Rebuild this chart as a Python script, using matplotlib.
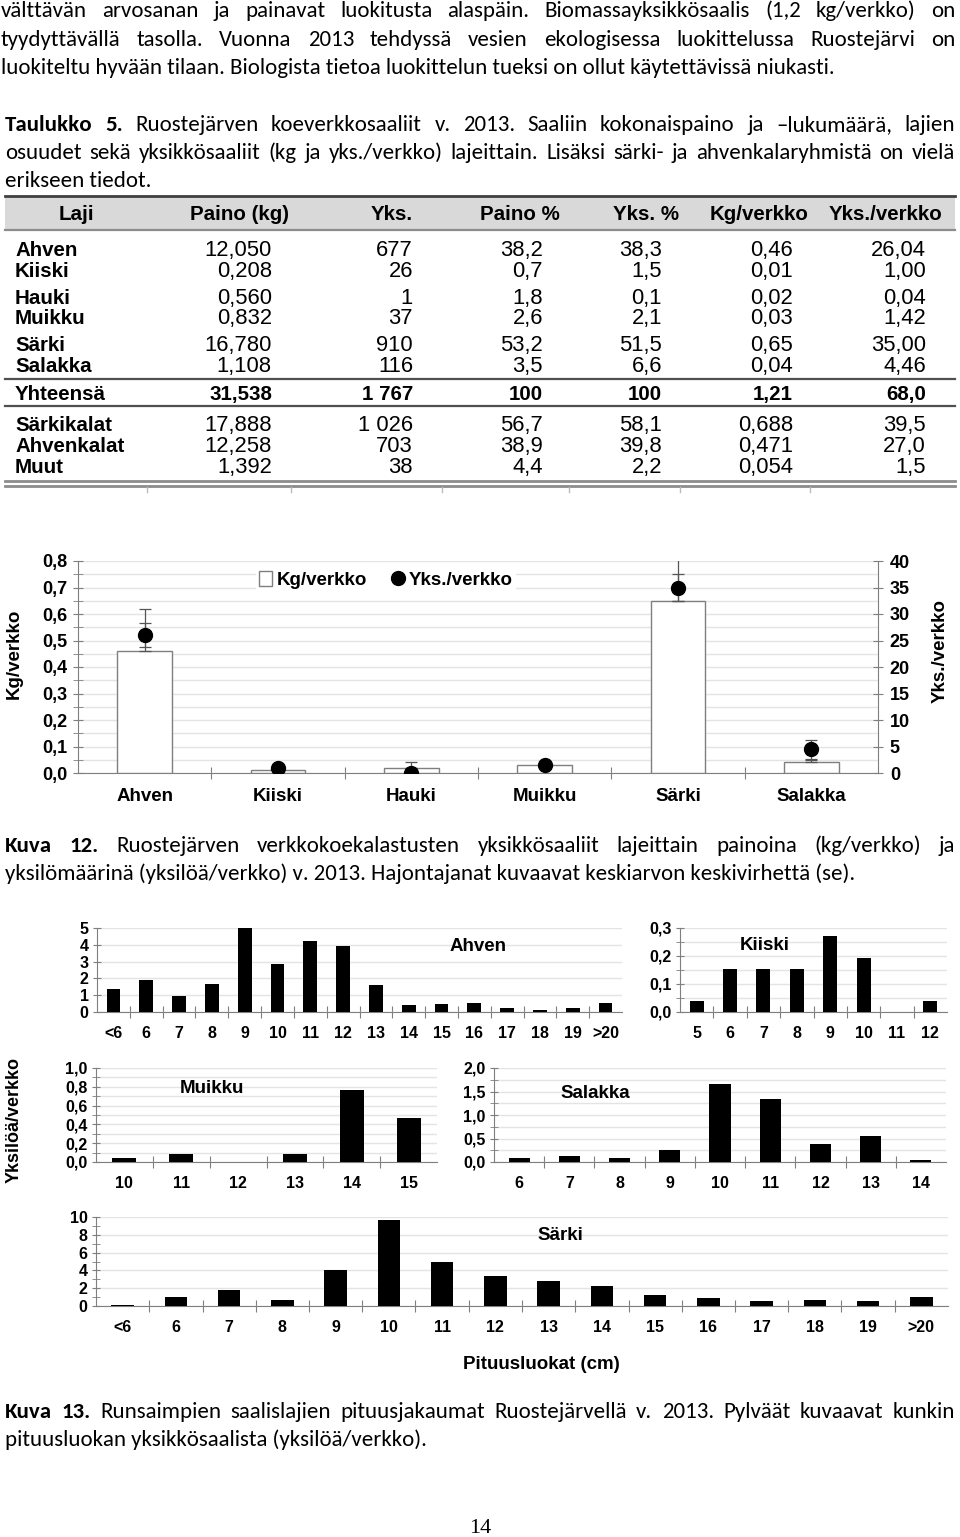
import matplotlib
matplotlib.use('Agg')
import matplotlib.pyplot as plt
from matplotlib.patches import Patch
from matplotlib.lines import Line2D
from matplotlib.ticker import FixedLocator, MultipleLocator, FuncFormatter, NullFormatter
import numpy as np

# ---------------- data ----------------
table_header = ["Laji", "Paino (kg)", "Yks.", "Paino %", "Yks. %", "Kg/verkko", "Yks./verkko"]
table_rows = ["Ahven", "Kiiski", "Hauki", "Muikku", "Särki", "Salakka", "Yhteensä",
              "Särkikalat", "Ahvenkalat", "Muut"]
col_paino = ["12,050", "0,208", "0,560", "0,832", "16,780", "1,108", "31,538", "17,888", "12,258", "1,392"]
col_yks = ["677", "26", "1", "37", "910", "116", "1 767", "1 026", "703", "38"]
col_painop = ["38,2", "0,7", "1,8", "2,6", "53,2", "3,5", "100", "56,7", "38,9", "4,4"]
col_yksp = ["38,3", "1,5", "0,1", "2,1", "51,5", "6,6", "100", "58,1", "39,8", "2,2"]
col_kgv = ["0,46", "0,01", "0,02", "0,03", "0,65", "0,04", "1,21", "0,688", "0,471", "0,054"]
col_yksv = ["26,04", "1,00", "0,04", "1,42", "35,00", "4,46", "68,0", "39,5", "27,0", "1,5"]

species = ["Ahven", "Kiiski", "Hauki", "Muikku", "Särki", "Salakka"]
kg_per_net = [0.46, 0.01, 0.02, 0.03, 0.65, 0.04]
kg_se = [0.16, 0.005, 0.021, 0.005, 0.165, 0.01]
yks_per_net = [26.04, 1.00, 0.04, 1.42, 35.00, 4.46]
yks_se = [2.3, 0.4, 0.04, 0.5, 2.5, 1.85]

ahven_cats = ["<6", "6", "7", "8", "9", "10", "11", "12", "13", "14", "15", "16", "17", "18", "19", ">20"]
ahven_vals = [1.35, 1.93, 0.96, 1.65, 5.0, 2.87, 4.24, 3.94, 1.61, 0.42, 0.46, 0.52, 0.22, 0.10, 0.26, 0.56]
kiiski_cats = ["5", "6", "7", "8", "9", "10", "11", "12"]
kiiski_vals = [0.04, 0.155, 0.155, 0.155, 0.272, 0.193, 0.0, 0.04]
muikku_cats = ["10", "11", "12", "13", "14", "15"]
muikku_vals = [0.043, 0.082, 0.0, 0.082, 0.77, 0.465]
salakka_cats = ["6", "7", "8", "9", "10", "11", "12", "13", "14"]
salakka_vals = [0.085, 0.12, 0.085, 0.26, 1.66, 1.33, 0.39, 0.55, 0.05]
sarki_cats = ["<6", "6", "7", "8", "9", "10", "11", "12", "13", "14", "15", "16", "17", "18", "19", ">20"]
sarki_vals = [0.15, 0.97, 1.84, 0.71, 4.0, 9.63, 4.94, 3.37, 2.81, 2.28, 1.27, 0.86, 0.52, 0.71, 0.60, 0.97]

para1 = ["välttävän arvosanan ja painavat luokitusta alaspäin. Biomassayksikkösaalis (1,2 kg/verkko) on",
         "tyydyttävällä tasolla. Vuonna 2013 tehdyssä vesien ekologisessa luokittelussa Ruostejärvi on",
         "luokiteltu hyvään tilaan. Biologista tietoa luokittelun tueksi on ollut käytettävissä niukasti."]
para2 = ["Taulukko 5. Ruostejärven koeverkkosaaliit v. 2013. Saaliin kokonaispaino ja –lukumäärä, lajien",
         "osuudet sekä yksikkösaaliit (kg ja yks./verkko) lajeittain. Lisäksi särki- ja ahvenkalaryhmistä on vielä",
         "erikseen tiedot."]
para3 = ["Kuva 12. Ruostejärven verkkokoekalastusten yksikkösaaliit lajeittain painoina (kg/verkko) ja",
         "yksilömäärinä (yksilöä/verkko) v. 2013. Hajontajanat kuvaavat keskiarvon keskivirhettä (se)."]
para4 = ["Kuva 13. Runsaimpien saalislajien pituusjakaumat Ruostejärvellä v. 2013. Pylväät kuvaavat kunkin",
         "pituusluokan yksikkösaalista (yksilöä/verkko)."]

# ---------------- setup ----------------
W, H = 960, 1537
fig = plt.figure(figsize=(W / 100, H / 100), dpi=100)
fig.patch.set_facecolor('white')
renderer = fig.canvas.get_renderer()

BODY = ['Carlito', 'Lato', 'DejaVu Sans']
ARIAL = ['Liberation Sans', 'DejaVu Sans']
SERIF = ['Liberation Serif', 'DejaVu Serif']
GRAY = '#7f7f7f'
GRID = '#e4e4e4'


def fx(x):
    return x / W


def fy(y):
    return 1 - y / H


def ptext(x, y, s, **kw):
    return fig.text(fx(x), fy(y), s, **kw)


def text_width(s, size, weight, family):
    t = fig.text(0, 0, s, fontsize=size, fontweight=weight, family=family)
    w = t.get_window_extent(renderer).width
    t.remove()
    return w


def fit_size(line, target):
    return 14 * target / text_width(line, 14, 'normal', BODY)


def paragraph(lines, nbold, x0, x1, baselines, size):
    for li, (line, yb) in enumerate(zip(lines, baselines)):
        nb = nbold if li == 0 else 0
        if li == len(lines) - 1:
            ptext(x0, yb, line, fontsize=size, family=BODY, ha='left', va='baseline')
            continue
        words = line.split(' ')
        ws = [text_width(w, size, 'bold' if i < nb else 'normal', BODY) for i, w in enumerate(words)]
        gap = (x1 - x0 - sum(ws)) / (len(words) - 1)
        x = x0
        for i, (w, wd) in enumerate(zip(words, ws)):
            ptext(x, yb, w, fontsize=size, family=BODY, ha='left', va='baseline',
                  fontweight='bold' if i < nb else 'normal')
            x += wd + gap


def hline(y, x0, x1, color, lw):
    fig.add_artist(Line2D([fx(x0), fx(x1)], [fy(y), fy(y)], color=color, lw=lw,
                          transform=fig.transFigure))


# ---------------- body text ----------------
cap_size = fit_size(para3[-1], 857)
paragraph(para1, 0, 1, 955, [17, 45.5, 74], cap_size)
paragraph(para2, 2, 5, 955, [131, 159, 187], cap_size)
paragraph(para3, 2, 5, 955, [852, 880], cap_size)
paragraph(para4, 2, 5, 955, [1418, 1446], cap_size)

# ---------------- table ----------------
fig.add_artist(plt.Rectangle((fx(5), fy(229)), fx(955) - fx(5), (229 - 197) / H,
                             facecolor='#d9d9d9', edgecolor='none', transform=fig.transFigure))
hline(196, 5, 955, '#404040', 2.0)
hline(230, 5, 955, '#8c8c8c', 1.6)
hline(379, 5, 955, '#505050', 1.6)
hline(406, 5, 955, '#505050', 1.6)
hline(481, 5, 955, '#8c8c8c', 2.0)
hline(486, 5, 955, '#8c8c8c', 2.0)
for xt in [147, 291, 442, 569, 680, 810]:
    fig.add_artist(Line2D([fx(xt), fx(xt)], [fy(487), fy(492)], color='#bbbbbb', lw=1,
                          transform=fig.transFigure))

TS = 14.8
NS = 15.8
head_x = [76, 240, 392, 520, 646, 759, 886]
for hx, h in zip(head_x, table_header):
    ptext(hx, 220, h, fontsize=TS, fontweight='bold', family=ARIAL, ha='center', va='baseline')

row_y = [249, 270, 297, 317, 344, 365, 393, 424, 445, 466]
col_right = [272, 413, 543, 662, 793, 926]
cols = [col_paino, col_yks, col_painop, col_yksp, col_kgv, col_yksv]
for ri, (name, ry) in enumerate(zip(table_rows, row_y)):
    yb = ry + 7
    ptext(15, yb, name, fontsize=TS, fontweight='bold', family=ARIAL, ha='left', va='baseline')
    wt = 'bold' if name == "Yhteensä" else 'normal'
    for cr, col in zip(col_right, cols):
        ptext(cr, yb, col[ri], fontsize=NS if wt == 'normal' else TS, fontweight=wt,
              family=ARIAL, ha='right', va='baseline')

# ---------------- Kuva 12 chart ----------------
comma1 = FuncFormatter(lambda v, p: f"{v:.1f}".replace('.', ','))
intfmt = FuncFormatter(lambda v, p: f"{v:.0f}")

ax = fig.add_axes([fx(78), fy(773), (878 - 78) / W, (773 - 561) / H])
xs = np.arange(len(species))
ax.set_xlim(-0.5, len(species) - 0.5)
ax.set_ylim(0, 0.8)
ax.bar(xs, kg_per_net, width=0.41, color='white', edgecolor=GRAY, lw=1, zorder=3)
ax.errorbar(xs, kg_per_net, yerr=[np.zeros(len(xs)), kg_se], fmt='none', ecolor='#555555',
            elinewidth=0.9, capsize=4, capthick=0.9, zorder=4)
ax.set_axisbelow(True)
ax.yaxis.set_major_locator(MultipleLocator(0.1))
ax.yaxis.set_minor_locator(MultipleLocator(0.05))
ax.yaxis.set_major_formatter(comma1)
ax.grid(axis='y', which='both', color=GRID, lw=1)
ax.tick_params(axis='y', which='both', direction='inout', length=7, color=GRAY, pad=4)
ax.tick_params(axis='y', which='major', labelsize=13)
for lab in ax.get_yticklabels():
    lab.set_fontweight('bold')
    lab.set_family(ARIAL)
ax.xaxis.set_major_locator(FixedLocator(np.arange(0.5, len(species) - 0.5, 1)))
ax.xaxis.set_major_formatter(NullFormatter())
ax.xaxis.set_minor_locator(FixedLocator(xs))
ax.set_xticklabels(species, minor=True, fontsize=13.5, fontweight='bold', family=ARIAL)
ax.tick_params(axis='x', which='major', direction='inout', length=9, color=GRAY)
ax.tick_params(axis='x', which='minor', length=0, pad=11)
for s in ['top', 'right']:
    ax.spines[s].set_visible(False)
for s in ['left', 'bottom']:
    ax.spines[s].set_color(GRAY)
ax.set_ylabel("Kg/verkko", fontsize=13.5, fontweight='bold', family=ARIAL)
ax.yaxis.set_label_coords((14 - 78) / 800, (773 - 654) / 212)
ax.yaxis.label.set_va('center')
ax.yaxis.label.set_ha('center')

ax2 = ax.twinx()
ax2.set_ylim(0, 40)
ax2.errorbar(xs, yks_per_net, yerr=yks_se, fmt='o', color='black', ms=10, ecolor='#555555',
             elinewidth=0.9, capsize=4, capthick=0.9, zorder=5)
ax2.yaxis.set_major_locator(MultipleLocator(5))
ax2.yaxis.set_major_formatter(intfmt)
ax2.tick_params(axis='y', direction='inout', length=7, color=GRAY, labelsize=13, pad=5)
for lab in ax2.get_yticklabels():
    lab.set_fontweight('bold')
    lab.set_family(ARIAL)
for s in ['top', 'left', 'bottom']:
    ax2.spines[s].set_visible(False)
ax2.spines['right'].set_color(GRAY)
ax2.set_ylabel("Yks./verkko", fontsize=13.5, fontweight='bold', family=ARIAL)
ax2.yaxis.set_label_coords((940 - 78) / 800, (773 - 651) / 212)
ax2.yaxis.label.set_va('center')
ax2.yaxis.label.set_ha('center')
ax2.yaxis.label.set_rotation(90)

handles = [Patch(facecolor='white', edgecolor=GRAY, lw=1),
           Line2D([], [], marker='o', color='black', ls='none', ms=10)]
leg = ax2.legend(handles, ["Kg/verkko", "Yks./verkko"], loc='center',
                 bbox_to_anchor=(fx(386), fy(580)), bbox_transform=fig.transFigure,
                 ncol=2, frameon=True, handlelength=0.7, handleheight=0.8, handletextpad=0.25,
                 columnspacing=1.3, borderpad=0.15, fancybox=False,
                 prop={'family': ARIAL, 'weight': 'bold', 'size': 13.5})
leg.get_frame().set_edgecolor('none')
leg.get_frame().set_facecolor('white')
leg.get_frame().set_alpha(1)


# ---------------- Kuva 13 histograms ----------------
def hist(box, cats, vals, ymax, major, minor, dec, minor_grid):
    left, right, top, bottom = box
    a = fig.add_axes([fx(left), fy(bottom), (right - left) / W, (bottom - top) / H])
    n = len(cats)
    x = np.arange(n)
    a.set_xlim(-0.5, n - 0.5)
    a.set_ylim(0, ymax)
    a.bar(x, vals, width=0.42, color='black', zorder=3)
    a.set_axisbelow(True)
    a.yaxis.set_major_locator(MultipleLocator(major))
    if minor:
        a.yaxis.set_minor_locator(MultipleLocator(minor))
    a.yaxis.set_major_formatter(comma1 if dec else intfmt)
    a.grid(axis='y', which='both' if minor_grid else 'major', color=GRID, lw=1)
    a.tick_params(axis='y', which='both', direction='inout', length=6, color=GRAY, pad=3)
    a.tick_params(axis='y', which='major', labelsize=11.5)
    for lab in a.get_yticklabels():
        lab.set_fontweight('bold')
        lab.set_family(ARIAL)
    a.xaxis.set_major_locator(FixedLocator(np.arange(0.5, n - 0.5, 1)))
    a.xaxis.set_major_formatter(NullFormatter())
    a.xaxis.set_minor_locator(FixedLocator(x))
    a.set_xticklabels(cats, minor=True, fontsize=11.5, fontweight='bold', family=ARIAL)
    a.tick_params(axis='x', which='major', direction='inout', length=8, color=GRAY)
    a.tick_params(axis='x', which='minor', length=0, pad=10)
    for s in ['top', 'right']:
        a.spines[s].set_visible(False)
    for s in ['left', 'bottom']:
        a.spines[s].set_color(GRAY)
    return a


hist((97, 622, 928, 1012), ahven_cats, ahven_vals, 5, 1, None, False, False)
hist((680, 947, 928, 1012), kiiski_cats, kiiski_vals, 0.3, 0.1, 0.05, True, True)
hist((96, 437, 1068, 1162), muikku_cats, muikku_vals, 1.0, 0.2, 0.1, True, True)
hist((494, 946, 1068, 1162), salakka_cats, salakka_vals, 2.0, 0.5, 0.25, True, True)
hist((96, 948, 1217, 1306), sarki_cats, sarki_vals, 10, 2, 1, False, False)

LS = 13.5
for name, (lx, ly) in zip(["Ahven", "Kiiski", "Muikku", "Salakka", "Särki"],
                          [(478, 944), (765, 943), (212, 1086), (595, 1091), (560, 1233)]):
    ptext(lx, ly + 7, name, fontsize=LS, fontweight='bold', family=ARIAL, ha='center', va='baseline')
ptext(541, 1369, "Pituusluokat (cm)", fontsize=LS, fontweight='bold', family=ARIAL,
      ha='center', va='baseline')
ptext(14, 1120, "Yksilöä/verkko", fontsize=13, fontweight='bold', family=ARIAL,
      ha='center', va='center', rotation=90)

# page number
ptext(480, 1533, "14", fontsize=16, family=SERIF, ha='center', va='baseline')

fig.savefig("out.png", dpi=100, facecolor='white')
